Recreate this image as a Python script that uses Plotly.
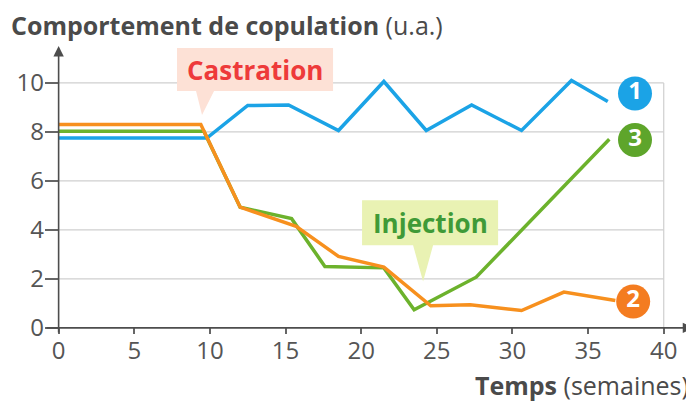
import plotly.graph_objects as go

# ---- data ----
weeks_1 = [0, 9.8, 12.5, 15.2, 18.5, 21.5, 24.3, 27.3, 30.6, 33.9, 36.3]
vals_1 = [7.75, 7.75, 9.08, 9.1, 8.06, 10.06, 8.06, 9.1, 8.06, 10.1, 9.24]

weeks_2 = [0, 9.4, 12.0, 15.7, 18.5, 21.5, 24.6, 27.2, 30.6, 33.4, 36.8]
vals_2 = [8.3, 8.3, 4.93, 4.15, 2.92, 2.48, 0.9, 0.94, 0.71, 1.46, 1.12]

weeks_3 = [0, 9.6, 12.0, 15.4, 17.6, 21.5, 23.5, 27.6, 36.4]
vals_3 = [8.03, 8.03, 4.93, 4.46, 2.51, 2.45, 0.74, 2.07, 7.7]

x_ticks = [0, 5, 10, 15, 20, 25, 30, 35, 40]
y_ticks = [0, 2, 4, 6, 8, 10]

series_labels = ["1", "2", "3"]
label_x = [38.1, 37.98, 38.1]
label_y = [9.57, 1.08, 7.67]

BLUE = "#1ba3e6"
ORANGE = "#f7901e"
GREEN = "#6cb22c"
TXT = "#555555"
GRID = "#cfcfcf"
FONT = "Open Sans"

# ---- layout geometry (screen pixels; page body has an 8px margin) ----
OFF = 8
W, H = 694 - OFF, 403 - OFF
XR = [-0.9, 42.0]
YR = [-0.25, 11.55]
SL, ST = 45, 45          # plot-area left/top on screen
PX_PER_X = 15.125
PX_PER_Y = 24.45
PW = (XR[1] - XR[0]) * PX_PER_X
PH = (YR[1] - YR[0]) * PX_PER_Y
ML, MT = SL - OFF, ST - OFF
MR = W - ML - PW
MB = H - MT - PH


def dx(px):
    return XR[0] + (px - SL) / PX_PER_X


def dy(py):
    return YR[1] - (py - ST) / PX_PER_Y


def paper_x(px):
    return (px - SL) / PW


def paper_y(py):
    return (ST + PH - py) / PH


fig = go.Figure()

fig.add_trace(go.Scatter(x=weeks_1, y=vals_1, mode="lines",
                         line=dict(color=BLUE, width=3.5), hoverinfo="skip"))
fig.add_trace(go.Scatter(x=weeks_3, y=vals_3, mode="lines",
                         line=dict(color=GREEN, width=3.5), hoverinfo="skip"))
fig.add_trace(go.Scatter(x=weeks_2, y=vals_2, mode="lines",
                         line=dict(color=ORANGE, width=3.5), hoverinfo="skip"))

# numbered circles
circle_colors = [BLUE, "#f47c20", "#5ea52b"]
fig.add_trace(go.Scatter(
    x=label_x, y=label_y, mode="markers+text", text=series_labels,
    textposition="middle center",
    textfont=dict(family=FONT, size=24, color="white", weight="bold"),
    marker=dict(size=34, color=circle_colors, line=dict(width=0)),
    hoverinfo="skip", cliponaxis=False))

shapes = []
# grid lines
for v in y_ticks[1:]:
    shapes.append(dict(type="line", x0=0, x1=40, y0=v, y1=v,
                       line=dict(color=GRID, width=1.2), layer="below"))
shapes.append(dict(type="line", x0=40, x1=40, y0=0, y1=10,
                   line=dict(color=GRID, width=1.2), layer="below"))

# callout: Castration
cx0, cx1, cy0, cy1 = dx(177), dx(333), dy(48), dy(91)
shapes.append(dict(type="path",
                   path=f"M {cx0},{cy0} L {cx1},{cy0} L {cx1},{cy1} L {dx(214)},{cy1} "
                        f"L {dx(202)},{dy(115)} L {dx(196)},{cy1} L {cx0},{cy1} Z",
                   fillcolor="#fde1d6", line=dict(width=0), layer="above"))
# callout: Injection
ix0, ix1, iy0, iy1 = dx(362), dx(498), dy(200), dy(245)
shapes.append(dict(type="path",
                   path=f"M {ix0},{iy0} L {ix1},{iy0} L {ix1},{iy1} L {dx(433)},{iy1} "
                        f"L {dx(423)},{dy(281)} L {dx(413)},{iy1} L {ix0},{iy1} Z",
                   fillcolor="#e9f2b3", line=dict(width=0), layer="above"))

annotations = []
# axes with arrows
annotations.append(dict(x=dx(693), y=0, ax=XR[0], ay=0, xref="x", yref="y",
                        axref="x", ayref="y", showarrow=True, arrowhead=2,
                        arrowsize=1.3, arrowwidth=1.6, arrowcolor="#4d4d4d", text=""))
annotations.append(dict(x=0, y=dy(46), ax=0, ay=YR[0], xref="x", yref="y",
                        axref="x", ayref="y", showarrow=True, arrowhead=2,
                        arrowsize=1.3, arrowwidth=1.6, arrowcolor="#4d4d4d", text=""))
# callout texts
annotations.append(dict(x=(cx0 + cx1) / 2, y=(cy0 + cy1) / 2, xref="x", yref="y",
                        text="<b>Castration</b>", showarrow=False,
                        font=dict(family=FONT, size=26, color="#ee3a3a")))
annotations.append(dict(x=(ix0 + ix1) / 2, y=(iy0 + iy1) / 2, xref="x", yref="y",
                        text="<b>Injection</b>", showarrow=False,
                        font=dict(family=FONT, size=26, color="#3f9a37")))
# titles
annotations.append(dict(x=paper_x(9), y=paper_y(25), xref="paper", yref="paper",
                        xanchor="left", yanchor="middle", showarrow=False,
                        text="<b>Comportement de copulation</b> (u.a.)",
                        font=dict(family=FONT, size=25, color="#4a4a4a")))
annotations.append(dict(x=paper_x(691), y=paper_y(384), xref="paper", yref="paper",
                        xanchor="right", yanchor="middle", showarrow=False,
                        text="<b>Temps</b> (semaines)",
                        font=dict(family=FONT, size=25, color="#4a4a4a")))

fig.update_layout(
    width=W, height=H,
    margin=dict(l=ML, r=MR, t=MT, b=MB, pad=0, autoexpand=False),
    paper_bgcolor="white", plot_bgcolor="white",
    showlegend=False,
    shapes=shapes, annotations=annotations,
    xaxis=dict(range=XR, tickvals=x_ticks, ticktext=[str(t) for t in x_ticks],
               showgrid=False, zeroline=False, showline=False, automargin=False,
               ticks="inside", ticklen=6, tickwidth=1.5, tickcolor="#666666",
               tickfont=dict(family=FONT, size=24, color=TXT), fixedrange=True),
    yaxis=dict(range=YR, tickvals=y_ticks, ticktext=[str(t) for t in y_ticks],
               showgrid=False, zeroline=False, showline=False, automargin=False,
               ticks="inside", ticklen=14, tickwidth=1.5, tickcolor="#666666",
               tickfont=dict(family=FONT, size=24, color=TXT), fixedrange=True),
)

fig.write_html("out.html")
